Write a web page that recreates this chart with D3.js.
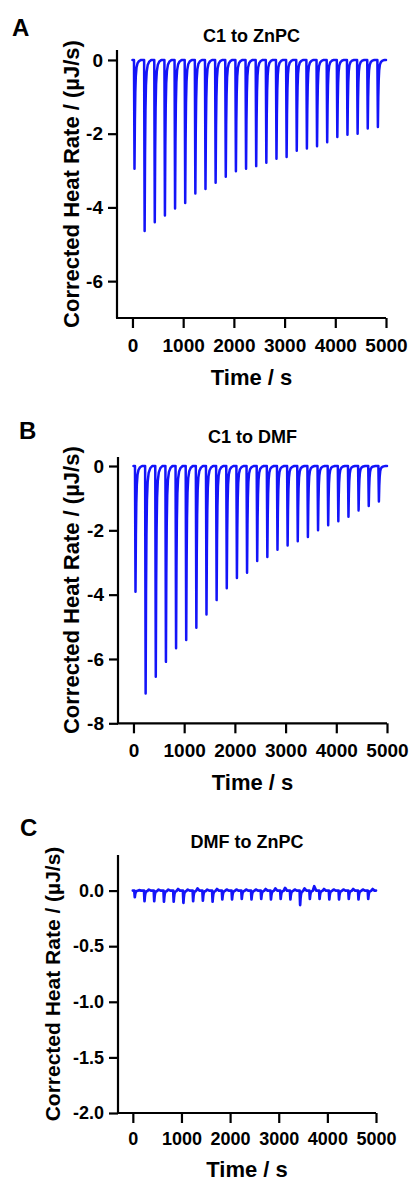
<!DOCTYPE html>
<html><head><meta charset="utf-8">
<script src="https://cdn.jsdelivr.net/npm/d3@7"></script>
<style>
body{margin:0;background:#fff}
svg{display:block}
text{font-family:"Liberation Sans",Arial,sans-serif;font-weight:bold;fill:#000}
</style>
</head><body>
<svg id="chart" width="414" height="1182"></svg>
<script>
// ---- data ----
const injectionTimes = [30,230,430,630,830,1030,1230,1430,1630,1830,2030,2230,2430,2630,2830,3030,3230,3430,3630,3830,4030,4230,4430,4630,4830];
const depthA = [-2.95,-4.64,-4.40,-4.22,-4.03,-3.88,-3.62,-3.50,-3.33,-3.17,-3.02,-2.95,-2.88,-2.79,-2.68,-2.63,-2.46,-2.40,-2.34,-2.23,-2.09,-2.03,-2.00,-1.86,-1.82];
const depthB = [-3.91,-7.07,-6.55,-6.09,-5.67,-5.41,-5.03,-4.62,-4.17,-3.80,-3.48,-3.32,-2.95,-2.83,-2.60,-2.47,-2.34,-2.21,-2.00,-1.84,-1.72,-1.58,-1.38,-1.24,-1.10];
const depthC = [-0.06,-0.095,-0.095,-0.10,-0.10,-0.11,-0.095,-0.09,-0.10,-0.08,-0.08,-0.075,-0.08,-0.075,-0.08,-0.075,-0.08,-0.13,-0.075,-0.075,-0.08,-0.08,-0.075,-0.08,-0.075];
const bumpC = [0.005,0.01,0.01,0.01,0.015,0.01,0.02,0.01,0.015,0.01,0.01,0.01,0.01,0.015,0.02,0.025,0.01,0.02,0.04,0.015,0.01,0.01,0.015,0.01,0.015];
// peak profile: time offset after injection (s) and fraction of peak depth
const profileOffsets = [-2, 0, 10, 18, 26, 36, 50, 70, 100, 140];
const profileFractions = [0, 0, 1.0, 0.55, 0.3, 0.15, 0.07, 0.03, 0.01, 0];
const tStart = 0, tEnd = 5000;
const xTicks = [0,1000,2000,3000,4000,5000];
const yTicksA = [0,-2,-4,-6];
const yTicksB = [0,-2,-4,-6,-8];
const yTicksC = [0,-0.5,-1.0,-1.5,-2.0];
const titles = ["C1 to ZnPC","C1 to DMF","DMF to ZnPC"];
const letters = ["A","B","C"];
const xLabel = "Time / s";
const yLabel = "Corrected Heat Rate / (µJ/s)";

function buildTrace(depths, bumps){
  const pts = [[tStart, 0]];
  injectionTimes.forEach((t0, i) => {
    profileOffsets.forEach((o, k) => {
      let v = depths[i] * profileFractions[k];
      if (bumps && k === 8) v += bumps[i];
      pts.push([t0 + o, v]);
    });
  });
  pts.push([tEnd, 0]);
  return pts;
}

const svg = d3.select("#chart");
const panels = [
  {letter:letters[0], title:titles[0], data:buildTrace(depthA), yDomain:[-7,0.27], yTicks:yTicksA, fmt:d3.format("d"),
   x0:117, x1:386, yTop:50, yBot:318, titleY:42, letterX:12, letterY:36, tickY:10.5, xLabY:385, yLabX:79, lw:2.5, tfs:19, yfs:22},
  {letter:letters[1], title:titles[1], data:buildTrace(depthB), yDomain:[-8,0.28], yTicks:yTicksB, fmt:d3.format("d"),
   x0:118, x1:387, yTop:457, yBot:723.3, titleY:443, letterX:19, letterY:439, tickY:10.5, xLabY:790, yLabX:79, lw:2.5, tfs:19, yfs:22},
  {letter:letters[2], title:titles[2], data:buildTrace(depthC, bumpC), yDomain:[-2,0.32], yTicks:yTicksC, fmt:d3.format(".1f"),
   x0:118, x1:376, yTop:855, yBot:1113, titleY:848, letterX:20, letterY:836, tickY:9, xLabY:1177, yLabX:60, lw:2.7, tfs:18, yfs:21}
];

panels.forEach(p => {
  const g = svg.append("g");
  const x = d3.scaleLinear().domain([-305, 5000]).range([p.x0, p.x1]);
  const y = d3.scaleLinear().domain(p.yDomain).range([p.yBot, p.yTop]);

  const yAxis = g.append("g").attr("transform", `translate(${p.x0},0)`)
    .call(d3.axisLeft(y).tickValues(p.yTicks).tickFormat(d => p.fmt(d).replace("−","-")).tickSize(9).tickSizeOuter(0).tickPadding(5));
  const xAxis = g.append("g").attr("transform", `translate(0,${p.yBot})`)
    .call(d3.axisBottom(x).tickValues(xTicks).tickFormat(d3.format("d")).tickSize(10).tickSizeOuter(0).tickPadding(p.tickY));
  [yAxis, xAxis].forEach(a => {
    a.select(".domain").attr("stroke","#000").attr("stroke-width",2.2);
    a.selectAll(".tick line").attr("stroke","#000").attr("stroke-width",2.2);
    a.selectAll(".tick text").style("font-size", p.tfs + "px").style("font-weight","bold")
      .style("font-family",'"Liberation Sans",Arial,sans-serif').attr("fill","#000");
  });
  yAxis.select(".domain").attr("d", `M0,${p.yTop}V${p.yBot}`);
  xAxis.select(".domain").attr("d", `M${p.x0 - 1},0H${p.x1}`);

  const line = d3.line().x(d => x(d[0])).y(d => y(d[1]));
  g.append("path").datum(p.data).attr("d", line)
    .attr("fill","none").attr("stroke","#1414f8").attr("stroke-width",p.lw)
    .attr("stroke-linejoin","round").attr("stroke-linecap","round");

  const cx = (p.x0 + p.x1) / 2;
  g.append("text").attr("x", cx).attr("y", p.titleY).attr("text-anchor","middle")
    .style("font-size","18px").text(p.title);
  g.append("text").attr("x", p.letterX).attr("y", p.letterY)
    .style("font-size","24px").text(p.letter);
  g.append("text").attr("x", cx).attr("y", p.xLabY).attr("text-anchor","middle")
    .style("font-size","22px").text(xLabel);
  g.append("text").attr("transform", `translate(${p.yLabX},${(p.yTop + p.yBot) / 2}) rotate(-90)`)
    .attr("text-anchor","middle").style("font-size", p.yfs + "px").text(yLabel);
});
</script>
</body></html>
